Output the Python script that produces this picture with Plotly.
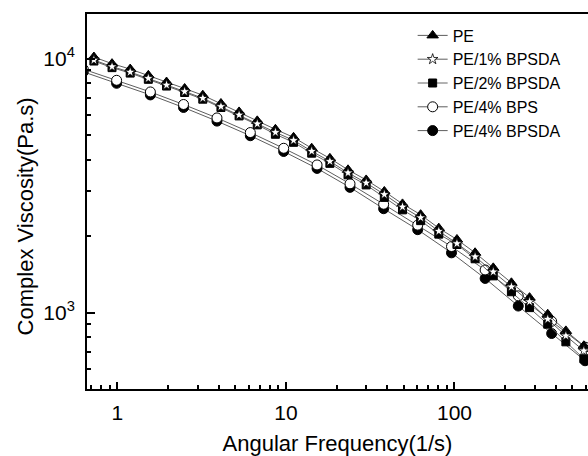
import plotly.graph_objects as go

# ---- data ----
freq_a = [0.726, 0.930, 1.192, 1.527, 1.958, 2.507, 3.213, 4.117, 5.276, 6.761,
          8.663, 11.10, 14.22, 18.23, 23.36, 29.93, 38.35, 49.15, 62.98, 80.70,
          103.4, 132.5, 169.8, 217.6, 278.8, 357.3, 457.8, 585.3]
pe = [10150, 9560, 9100, 8600, 8090, 7630, 7180, 6660, 6170, 5690,
      5270, 4900, 4440, 4050, 3650, 3330, 3000, 2680, 2430, 2150,
      1940, 1720, 1500, 1310, 1145, 985, 847, 740]
pe_1bpsda = [9880, 9305, 8857, 8370, 7874, 7426, 6988, 6482, 6005, 5538,
             5129, 4769, 4321, 3942, 3553, 3241, 2920, 2608, 2365, 2093,
             1871, 1659, 1447, 1263, 1104, 942, 810, 707]
pe_2bpsda = [9790, 9221, 8777, 8295, 7803, 7359, 6925, 6424, 5951, 5488,
             5038, 4684, 4244, 3871, 3489, 3183, 2842, 2539, 2302, 2037,
             1854, 1629, 1395, 1208, 1046, 900, 767, 658]

freq_b = [0.628, 0.99, 1.57, 2.47, 3.9, 6.15, 9.7, 15.3, 24.0, 38.0,
          60.5, 96, 152, 239, 377, 595]
pe_4bps = [9095, 8220, 7396, 6601, 5843, 5117, 4437, 3815, 3215, 2671,
           2210, 1820, 1472, 1164, 924, 731]
pe_4bpsda = [8876, 8000, 7200, 6425, 5677, 4972, 4310, 3697, 3113, 2565,
             2121, 1719, 1363, 1061, 827, 646]

x_tickvals = [1, 10, 100]
x_ticktext = ["1", "10", "100"]
x_minor = [0.7, 0.8, 0.9, 2, 3, 4, 5, 6, 7, 8, 9, 20, 30, 40, 50, 60, 70, 80, 90,
           200, 300, 400, 500, 600]
y_tickvals = [1000, 10000]
y_ticktext = ["10<sup>3</sup>", "10<sup>4</sup>"]
y_minor = [500, 600, 700, 800, 900, 2000, 3000, 4000, 5000, 6000, 7000, 8000, 9000]

FONT = "Liberation Sans, Arial, sans-serif"

fig = go.Figure()

# draw order: filled circles, open circles, triangles, squares, stars
fig.add_trace(go.Scatter(
    x=freq_b, y=pe_4bpsda, name="PE/4% BPSDA", mode="lines+markers", legendrank=5,
    line=dict(color="#333333", width=0.8),
    marker=dict(symbol="circle", size=10, color="black", line=dict(color="black", width=1))))
fig.add_trace(go.Scatter(
    x=freq_b, y=pe_4bps, name="PE/4% BPS", mode="lines+markers", legendrank=4,
    line=dict(color="#333333", width=0.8),
    marker=dict(symbol="circle", size=10, color="white", line=dict(color="black", width=1))))
fig.add_trace(go.Scatter(
    x=freq_a, y=pe, name="PE", mode="lines+markers", legendrank=1,
    line=dict(color="#333333", width=0.8),
    marker=dict(symbol="triangle-up", size=10, color="black", line=dict(color="black", width=1))))
fig.add_trace(go.Scatter(
    x=freq_a, y=pe_2bpsda, name="PE/2% BPSDA", mode="lines+markers", legendrank=3,
    line=dict(color="#666666", width=1),
    marker=dict(symbol="square", size=8, color="black", line=dict(color="black", width=1))))
fig.add_trace(go.Scatter(
    x=freq_a, y=pe_1bpsda, name="PE/1% BPSDA", mode="lines+markers", legendrank=2,
    line=dict(color="#333333", width=0.8),
    marker=dict(symbol="star", size=8, color="white", line=dict(color="black", width=0.8))))

fig.update_layout(
    width=588, height=456,
    margin=dict(l=87, r=0, t=14, b=67, autoexpand=False),
    paper_bgcolor="white", plot_bgcolor="white",
    font=dict(family=FONT, color="black", size=16),
    legend=dict(x=0.65, y=0.988, xanchor="left", yanchor="top",
                bgcolor="rgba(0,0,0,0)", font=dict(size=16, family=FONT),
                tracegroupgap=0),
    showlegend=True,
    annotations=[dict(text="Complex Viscosity(Pa.s)", textangle=-90,
                      xref="paper", yref="paper", x=-0.122, y=0.46,
                      xanchor="center", yanchor="middle", showarrow=False,
                      font=dict(size=22, family=FONT, color="black"))],
)

fig.update_xaxes(
    type="log", range=[-0.18, 2.792],
    tickmode="array", tickvals=x_tickvals, ticktext=x_ticktext,
    ticks="inside", ticklen=7, tickwidth=1.5, tickcolor="black",
    minor=dict(tickmode="array", tickvals=x_minor, ticks="inside", ticklen=4,
               tickwidth=1.5, tickcolor="black", showgrid=False),
    showline=True, linecolor="black", linewidth=2, mirror=True,
    showgrid=False, zeroline=False, automargin=False,
    tickfont=dict(size=21, family=FONT), ticklabelstandoff=4,
    title=dict(text="Angular Frequency(1/s)", font=dict(size=22, family=FONT), standoff=12),
)
fig.update_yaxes(
    type="log", range=[2.699, 4.176],
    tickmode="array", tickvals=y_tickvals, ticktext=y_ticktext,
    ticks="inside", ticklen=8, tickwidth=1.5, tickcolor="black",
    minor=dict(tickmode="array", tickvals=y_minor, ticks="inside", ticklen=4,
               tickwidth=1.5, tickcolor="black", showgrid=False),
    showline=True, linecolor="black", linewidth=2, mirror=True,
    showgrid=False, zeroline=False, automargin=False,
    tickfont=dict(size=21, family=FONT), ticklabelstandoff=6,
)

fig.write_html("out.html", config={"displayModeBar": False},
               post_script="document.body.style.margin='0px';")
